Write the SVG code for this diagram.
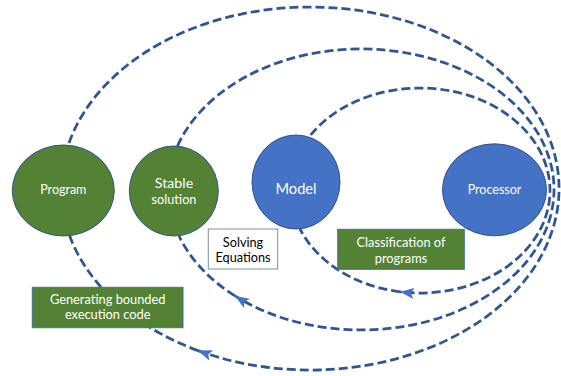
<svg xmlns="http://www.w3.org/2000/svg" width="561" height="376" viewBox="0 0 561 376">
<defs>
<style>
.arc{fill:none;stroke:#2f5597;stroke-width:2.75;stroke-dasharray:9 4}
.g{fill:#548235;stroke:#2f528f;stroke-width:1}
.b{fill:#4472c4;stroke:#2f528f;stroke-width:1}
.bx{fill:#548235;stroke:#41719c;stroke-width:1}
.wb{fill:#ffffff;stroke:#7f8fa6;stroke-width:1}
text{font-family:Lato,"Liberation Sans",sans-serif;text-anchor:middle}
.w{fill:#ffffff}
.k{fill:#000000}
</style>
<marker id="ah" markerUnits="userSpaceOnUse" markerWidth="16" markerHeight="12" refX="14" refY="5.5" orient="auto">
<path d="M0,0 L14,5.5 L0,11 L3,5.5 z" fill="#4472c4"/>
</marker>
</defs>
<g id="connectors">
<path class="arc" d="M69,143 A249,181.5 0 1 1 198,350.6" marker-end="url(#ah)"/>
<path class="arc" d="M198,350.6 A249,181.5 0 0 1 69,234"/>
<path class="arc" d="M177.5,146 A193,140.5 0 1 1 235,295.9" marker-end="url(#ah)"/>
<path class="arc" d="M235,295.9 A193,140.5 0 0 1 179,236"/>
<path class="arc" d="M310.7,135 A130,102.5 0 1 1 400,291.8" marker-end="url(#ah)"/>
<path class="arc" d="M400,291.8 A130,102.5 0 0 1 300,229"/>
</g>
<g id="program">
<ellipse class="g" cx="63.3" cy="190.5" rx="51" ry="45.5"/>
<text class="w" x="63.3" y="194" font-size="12.5">Program</text>
</g>
<g id="stable-solution">
<ellipse class="g" cx="173.8" cy="191" rx="44.5" ry="45"/>
<text class="w" x="174" y="187.7" font-size="14.2">Stable</text>
<text class="w" x="174" y="204" font-size="12.7">solution</text>
</g>
<g id="model">
<ellipse class="b" cx="296" cy="182" rx="44" ry="47"/>
<text class="w" x="296" y="194" font-size="14.7">Model</text>
</g>
<g id="processor">
<ellipse class="b" cx="494.5" cy="189.8" rx="52" ry="46"/>
<text class="w" x="494.5" y="194" font-size="12.5">Processor</text>
</g>
<g id="solving-equations">
<rect class="wb" x="208.3" y="229" width="69.4" height="40"/>
<text class="k" x="243" y="246.7" font-size="12.7">Solving</text>
<text class="k" x="243" y="261.7" font-size="12.7">Equations</text>
</g>
<g id="classification">
<rect class="bx" x="337.7" y="229.3" width="126.6" height="40"/>
<text class="w" x="401" y="246.7" font-size="12.8">Classification of</text>
<text class="w" x="401" y="262.7" font-size="12.8">programs</text>
</g>
<g id="generating">
<rect class="bx" x="32.3" y="287.3" width="150.7" height="40.4"/>
<text class="w" x="107.7" y="304.3" font-size="12.8">Generating bounded</text>
<text class="w" x="107.7" y="319.3" font-size="12.8">execution code</text>
</g>
</svg>
